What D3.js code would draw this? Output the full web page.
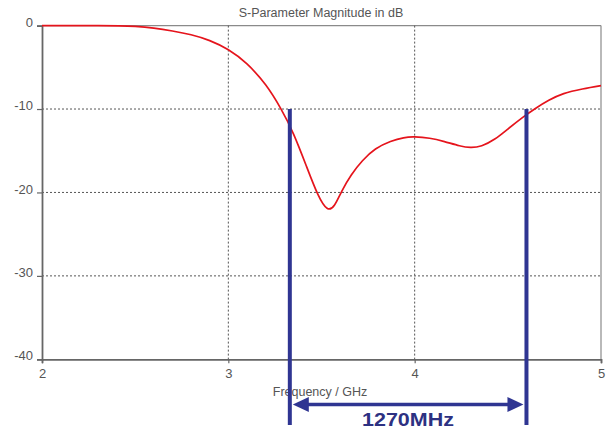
<!DOCTYPE html>
<html>
<head>
<meta charset="utf-8">
<script src="https://cdn.jsdelivr.net/npm/d3@7/dist/d3.min.js"></script>
<style>
  html, body { margin: 0; padding: 0; background: #fff; }
  svg { display: block; }
  text { font-family: "Liberation Sans", Arial, sans-serif; }
</style>
</head>
<body>
<svg id="chart" width="610" height="431"></svg>
<script>
// S11 magnitude sweep (GHz, dB)
const freqGHz = [2.0, 2.3, 2.5, 2.6, 2.7, 2.8, 2.9, 3.0, 3.1, 3.2, 3.28, 3.35, 3.42, 3.48, 3.53, 3.57, 3.61, 3.66, 3.72, 3.79, 3.87, 3.94, 4.0, 4.08, 4.16, 4.24, 4.3, 4.36, 4.43, 4.5, 4.58, 4.65, 4.72, 4.8, 4.9, 5.0];
const magDB   = [0.0, 0.0, -0.1, -0.3, -0.65, -1.1, -1.8, -2.9, -4.6, -7.1, -9.9, -13.0, -16.9, -20.2, -21.9, -21.5, -19.8, -17.9, -16.2, -14.8, -13.9, -13.45, -13.35, -13.5, -13.9, -14.4, -14.6, -14.4, -13.6, -12.4, -11.0, -9.9, -8.95, -8.15, -7.6, -7.2];

// Axis ticks
const xTicks = [2, 3, 4, 5];
const yTicks = [0, -10, -20, -30, -40];

// -10 dB bandwidth annotation
const bandwidthMHz = 1270;
const bandCenterGHz = 3.965;
const bandLowGHz = bandCenterGHz - bandwidthMHz / 2000;
const bandHighGHz = bandCenterGHz + bandwidthMHz / 2000;
const bandLevelDB = -10;
const bandLabel = bandwidthMHz + "MHz";

const titleText = "S-Parameter Magnitude in dB";
const xTitleText = "Frequency / GHz";

const svg = d3.select("#chart");
const x = d3.scaleLinear().domain([2, 5]).range([42, 601]);
const y = d3.scaleLinear().domain([-40, 0]).range([359.3, 25.6]);

// title
svg.append("text")
  .attr("x", 321).attr("y", 17)
  .attr("text-anchor", "middle")
  .attr("font-size", 12.5)
  .attr("fill", "#555")
  .text(titleText);

// frame (top and right)
svg.append("line").attr("x1", x(2)).attr("x2", x(5)).attr("y1", y(0)).attr("y2", y(0))
  .attr("stroke", "#8a8a8a").attr("stroke-width", 1.2);
svg.append("line").attr("x1", x(5)).attr("x2", x(5)).attr("y1", y(0)).attr("y2", y(-40))
  .attr("stroke", "#8a8a8a").attr("stroke-width", 1.2);

// dotted grid
const grid = svg.append("g").attr("stroke", "#555").attr("stroke-width", 1).attr("stroke-dasharray", "2,2");
grid.selectAll("line.v").data(xTicks.filter(t => t > 2 && t < 5)).join("line")
  .attr("class", "v")
  .attr("x1", d => x(d)).attr("x2", d => x(d))
  .attr("y1", y(0)).attr("y2", y(-40));
grid.selectAll("line.h").data(yTicks.filter(t => t < 0 && t > -40)).join("line")
  .attr("class", "h")
  .attr("x1", x(2)).attr("x2", x(5))
  .attr("y1", d => y(d)).attr("y2", d => y(d));

// axes (plain hyphen for negative labels)
const fmt = d => String(d);
const yAxis = svg.append("g").attr("transform", `translate(${x(2)},0)`)
  .call(d3.axisLeft(y).tickValues(yTicks).tickSize(5).tickPadding(4).tickFormat(fmt));
const xAxis = svg.append("g").attr("transform", `translate(0,${y(-40)})`)
  .call(d3.axisBottom(x).tickValues(xTicks).tickSize(4).tickPadding(5).tickFormat(fmt));
[xAxis, yAxis].forEach(g => {
  g.select(".domain").attr("stroke", "#666").attr("stroke-width", 1.8);
  g.selectAll(".tick line").attr("stroke", "#666").attr("stroke-width", 1.2);
  g.selectAll(".tick text").attr("fill", "#555").attr("font-size", 13)
    .attr("font-family", "'Liberation Sans', Arial, sans-serif");
});
yAxis.selectAll(".tick text").attr("dy", "0.05em");

// x axis title
svg.append("text")
  .attr("x", 320).attr("y", 396)
  .attr("text-anchor", "middle")
  .attr("font-size", 12.5)
  .attr("fill", "#555")
  .text(xTitleText);

// curve
const line = d3.line()
  .x((d, i) => x(freqGHz[i]))
  .y(d => y(d))
  .curve(d3.curveNatural);
svg.append("path")
  .datum(magDB)
  .attr("d", line)
  .attr("fill", "none")
  .attr("stroke", "#e5141c")
  .attr("stroke-width", 1.7);

// bandwidth markers
const blue = "#2f3592";
const arrowY = 404.5;
const bottomY = 425;
[bandLowGHz, bandHighGHz].forEach(f => {
  svg.append("line")
    .attr("x1", x(f)).attr("x2", x(f))
    .attr("y1", y(bandLevelDB)).attr("y2", bottomY)
    .attr("stroke", blue).attr("stroke-width", 4);
});
const xl = x(bandLowGHz) + 3, xr = x(bandHighGHz) - 3;
const headL = 16, headH = 7.5;
svg.append("line")
  .attr("x1", xl + headL - 2).attr("x2", xr - headL + 2)
  .attr("y1", arrowY).attr("y2", arrowY)
  .attr("stroke", blue).attr("stroke-width", 3.5);
svg.append("path")
  .attr("d", `M${xl},${arrowY} L${xl + headL},${arrowY - headH} L${xl + headL},${arrowY + headH} Z`)
  .attr("fill", blue);
svg.append("path")
  .attr("d", `M${xr},${arrowY} L${xr - headL},${arrowY - headH} L${xr - headL},${arrowY + headH} Z`)
  .attr("fill", blue);
svg.append("text")
  .attr("x", 408).attr("y", 426)
  .attr("text-anchor", "middle")
  .attr("font-size", 19)
  .attr("font-weight", "bold")
  .attr("fill", "#2d3182")
  .attr("textLength", 92)
  .attr("lengthAdjust", "spacingAndGlyphs")
  .text(bandLabel);
</script>
</body>
</html>
